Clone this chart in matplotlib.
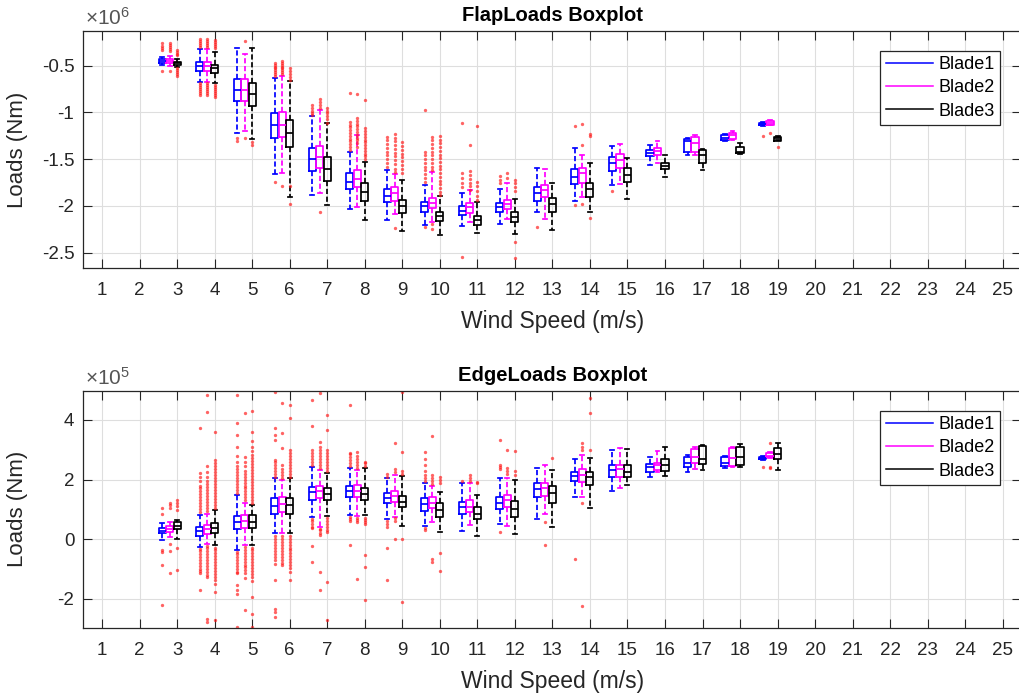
import numpy as np
import matplotlib
matplotlib.use("Agg")
import matplotlib.pyplot as plt
from matplotlib.lines import Line2D

plt.rcParams["font.family"] = ["Liberation Sans", "DejaVu Sans"]
plt.rcParams["mathtext.fontset"] = "custom"
plt.rcParams["mathtext.rm"] = "Liberation Sans"

# ---------------------------------------------------------------- data
speeds = [3, 4, 5, 6, 7, 8, 9, 10, 11, 12, 13, 14, 15, 16, 17, 18, 19]
blades = ["Blade1", "Blade2", "Blade3"]
tick_speeds = list(range(1, 26))

# Flapwise loads, units of 1e6 Nm: (whislo, q1, median, q3, whishi) per wind speed
flap_b1 = [(-0.489, -0.468, -0.447, -0.425, -0.404), (-0.671, -0.553, -0.503, -0.460, -0.325),
           (-1.216, -0.874, -0.760, -0.645, -0.308), (-1.657, -1.276, -1.134, -1.009, -0.635),
           (-1.881, -1.622, -1.500, -1.383, -1.037), (-2.034, -1.820, -1.740, -1.643, -1.419),
           (-2.148, -1.960, -1.892, -1.814, -1.614), (-2.202, -2.060, -2.000, -1.953, -1.775),
           (-2.213, -2.095, -2.049, -2.006, -1.857), (-2.190, -2.070, -2.013, -1.964, -1.820),
           (-2.060, -1.942, -1.857, -1.793, -1.596), (-1.942, -1.764, -1.686, -1.607, -1.376),
           (-1.775, -1.622, -1.543, -1.479, -1.358), (-1.561, -1.465, -1.429, -1.400, -1.347),
           (-1.454, -1.419, -1.310, -1.286, -1.276), (-1.310, -1.300, -1.270, -1.240, -1.230),
           (-1.140, -1.137, -1.123, -1.109, -1.100)]
flap_b2 = [(-0.500, -0.468, -0.447, -0.425, -0.395), (-0.671, -0.553, -0.503, -0.460, -0.325),
           (-1.200, -0.874, -0.760, -0.645, -0.380), (-1.650, -1.265, -1.134, -1.000, -0.610),
           (-1.860, -1.596, -1.472, -1.358, -0.970), (-2.010, -1.800, -1.714, -1.614, -1.240),
           (-2.090, -1.942, -1.863, -1.793, -1.660), (-2.167, -2.023, -1.964, -1.917, -1.632),
           (-2.170, -2.077, -2.013, -1.970, -1.830), (-2.140, -2.034, -1.977, -1.935, -1.760),
           (-2.140, -1.906, -1.828, -1.775, -1.610), (-1.900, -1.750, -1.650, -1.596, -1.450),
           (-1.770, -1.596, -1.507, -1.443, -1.340), (-1.540, -1.454, -1.408, -1.376, -1.310),
           (-1.450, -1.419, -1.329, -1.258, -1.240), (-1.290, -1.280, -1.240, -1.216, -1.200),
           (-1.134, -1.130, -1.110, -1.090, -1.085)]
flap_b3 = [(-0.511, -0.493, -0.475, -0.457, -0.432), (-0.688, -0.578, -0.528, -0.493, -0.350),
           (-1.287, -0.930, -0.806, -0.688, -0.308), (-1.900, -1.370, -1.215, -1.080, -0.663),
           (-1.988, -1.729, -1.607, -1.479, -1.115), (-2.149, -1.942, -1.846, -1.757, -1.526),
           (-2.263, -2.077, -2.006, -1.935, -1.721), (-2.309, -2.156, -2.106, -2.060, -1.892),
           (-2.290, -2.202, -2.149, -2.106, -1.953), (-2.298, -2.177, -2.120, -2.070, -1.927),
           (-2.255, -2.060, -1.977, -1.917, -1.750), (-2.060, -1.900, -1.820, -1.750, -1.543),
           (-1.927, -1.740, -1.668, -1.596, -1.489), (-1.693, -1.607, -1.568, -1.536, -1.454),
           (-1.620, -1.543, -1.450, -1.400, -1.390), (-1.440, -1.436, -1.419, -1.365, -1.330),
           (-1.300, -1.301, -1.276, -1.258, -1.250)]

flap_out_b1 = [[-0.26, -0.29, -0.31, -0.33, -0.56],
               [-0.22, -0.24, -0.26, -0.28, -0.30, -0.69, -0.71, -0.73, -0.75, -0.77, -0.79, -0.81],
               [-1.27, -1.31],
               [-0.47, -0.49, -0.51, -0.53, -0.55, -0.57, -0.59, -0.61, -1.74],
               [-0.92, -0.95, -0.98, -1.01, -1.03],
               [-0.79, -1.10, -1.13, -1.16, -1.19, -1.22, -1.25, -1.28, -1.31, -1.34, -1.37, -1.40],
               [-1.26, -1.30, -1.34, -1.38, -1.42, -1.46, -1.50, -1.54, -1.58],
               [-0.97, -1.42, -1.46, -1.50, -1.54, -1.58, -1.62, -1.66, -1.70, -1.74, -2.23],
               [-1.11, -1.65, -1.70, -1.75, -1.80, -2.55],
               [-1.68, -1.72, -1.76],
               [-2.23],
               [-1.15, -1.99],
               [-1.835],
               [], [], [],
               [-1.25]]
flap_out_b2 = [[-0.26, -0.28, -0.30, -0.32, -0.34, -0.56],
               [-0.22, -0.24, -0.26, -0.28, -0.30, -0.69, -0.71, -0.73, -0.75, -0.77, -0.79, -0.81],
               [-0.24, -1.27],
               [-0.45, -0.47, -0.49, -0.51, -0.53, -0.55, -0.57, -0.59, -1.785],
               [-0.86, -0.89, -0.92, -0.955, -2.06],
               [-0.80, -1.06, -1.09, -1.12, -1.15, -1.18, -1.21, -1.24, -1.27, -1.30, -1.33, -1.37],
               [-1.23, -1.27, -1.31, -1.35, -1.39, -1.43, -1.47, -1.51, -1.55, -1.60, -1.64, -2.24],
               [-1.265, -1.30, -1.34, -1.38, -1.42, -1.46, -1.50, -1.54, -1.58, -1.62, -2.19, -2.25],
               [-1.35, -1.63, -1.67, -1.71, -1.75, -1.79, -1.83],
               [-1.65, -1.70],
               [],
               [-1.12, -1.35, -1.98],
               [], [], [], [],
               [-1.216]]
flap_out_b3 = [[-0.33, -0.35, -0.37, -0.39, -0.53, -0.55, -0.57, -0.59, -0.61],
               [-0.23, -0.25, -0.27, -0.29, -0.31, -0.71, -0.73, -0.75, -0.77, -0.79, -0.81, -0.83],
               [-1.32, -1.35],
               [-0.53, -0.56, -0.59, -0.62, -0.65, -1.79, -1.98],
               [-0.95, -0.98, -1.01, -1.04, -1.07, -1.11],
               [-0.87, -1.17, -1.20, -1.23, -1.26, -1.29, -1.32, -1.35, -1.38, -1.41, -1.44, -1.47, -1.50],
               [-1.32, -1.36, -1.40, -1.44, -1.48, -1.52, -1.56, -1.60, -1.65],
               [-1.25, -1.29, -1.33, -1.37, -1.41, -1.45, -1.49, -1.53, -1.57, -1.61, -1.65, -1.69,
                -1.73, -1.77, -1.81, -1.85, -1.88],
               [-1.14, -1.74, -1.79, -1.84, -1.89, -1.935],
               [-1.72, -1.76, -1.80, -1.84, -2.39, -2.56],
               [],
               [-1.23, -1.25, -2.13],
               [], [], [], [],
               [-1.365]]

# Edgewise loads, units of 1e5 Nm: (whislo, q1, median, q3, whishi) per wind speed
edge_b1 = [(-0.03, 0.19, 0.28, 0.38, 0.53), (-0.26, 0.10, 0.26, 0.41, 0.81),
           (-0.35, 0.33, 0.58, 0.77, 1.48), (0.19, 0.86, 1.11, 1.37, 2.04),
           (0.75, 1.33, 1.59, 1.76, 2.41), (0.81, 1.40, 1.62, 1.78, 2.38),
           (0.66, 1.20, 1.37, 1.56, 2.04), (0.45, 0.95, 1.18, 1.37, 1.87),
           (0.28, 0.84, 1.09, 1.25, 1.87), (0.50, 1.00, 1.22, 1.42, 2.04),
           (0.66, 1.40, 1.67, 1.89, 2.38), (1.42, 1.96, 2.12, 2.26, 2.68),
           (1.62, 2.09, 2.32, 2.49, 2.99), (2.09, 2.26, 2.41, 2.52, 2.77),
           (2.26, 2.41, 2.55, 2.77, 2.82), (2.38, 2.45, 2.54, 2.75, 2.80),
           (2.66, 2.68, 2.72, 2.77, 2.79)]
edge_b2 = [(0.06, 0.25, 0.33, 0.44, 0.58), (-0.17, 0.17, 0.33, 0.47, 0.86),
           (-0.20, 0.39, 0.60, 0.81, 1.20), (0.19, 0.92, 1.18, 1.42, 2.00),
           (0.41, 1.37, 1.62, 1.78, 2.32), (0.79, 1.42, 1.62, 1.82, 2.32),
           (0.75, 1.25, 1.45, 1.63, 2.15), (0.58, 1.03, 1.22, 1.42, 1.78),
           (0.47, 0.92, 1.09, 1.33, 1.87), (0.45, 1.09, 1.31, 1.48, 2.04),
           (0.86, 1.45, 1.70, 1.89, 2.49), (1.42, 1.93, 2.15, 2.34, 2.82),
           (1.70, 2.09, 2.34, 2.49, 3.05), (2.26, 2.32, 2.49, 2.57, 2.97),
           (2.36, 2.54, 2.77, 3.01, 3.08), (2.41, 2.45, 2.72, 3.05, 3.08),
           (2.71, 2.75, 2.80, 2.88, 2.92)]
edge_b3 = [(0.02, 0.33, 0.45, 0.58, 0.64), (-0.20, 0.19, 0.36, 0.53, 0.97),
           (-0.20, 0.36, 0.58, 0.81, 1.14), (0.19, 0.86, 1.14, 1.37, 2.04),
           (0.77, 1.31, 1.51, 1.70, 2.23), (0.80, 1.31, 1.51, 1.70, 2.38),
           (0.44, 1.07, 1.25, 1.45, 2.12), (0.25, 0.75, 0.97, 1.22, 1.59),
           (0.10, 0.66, 0.84, 1.09, 1.48), (0.17, 0.75, 1.00, 1.29, 1.98),
           (0.41, 1.20, 1.54, 1.78, 2.32), (1.03, 1.82, 2.07, 2.26, 2.71),
           (1.82, 2.09, 2.26, 2.49, 3.01), (2.12, 2.30, 2.49, 2.68, 3.08),
           (2.32, 2.52, 2.68, 3.13, 3.16), (2.41, 2.49, 2.77, 3.10, 3.20),
           (2.32, 2.68, 2.86, 3.05, 3.24)]

edge_out_b1 = [[1.03, 0.86, -0.37, -0.43, -0.87, -2.22],
               [0.90, 1.00, 1.10, 1.20, 1.30, 1.40, 1.50, 1.60, 1.70, 1.80, 1.95, 2.10, 2.21, 3.74,
                -0.32, -0.40, -0.50, -0.60, -0.70, -0.80, -0.90, -1.00, -1.08, -1.15, -1.69],
               [1.55, 1.65, 1.75, 1.85, 1.95, 2.05, 2.15, 2.25, 2.35, 2.45, 2.60, 2.80, 3.10, 3.50, 3.89, 4.84,
                -0.42, -0.50, -0.60, -0.70, -0.80, -0.90, -1.00, -1.10, -1.15, -1.55, -1.70, -1.83, -2.95],
               [2.10, 2.20, 2.30, 2.40, 2.50, 2.60, 2.66, 3.33, 3.50, 3.73, 4.95,
                0.12, 0.00, -0.10, -0.20, -0.30, -0.40, -0.50, -0.60, -0.70, -0.82, -1.38, -2.33, -2.45, -2.61],
               [2.50, 2.60, 2.70, 2.80, 2.90, 2.99, 3.80, 4.67, 0.68, 0.60, 0.50, 0.42, 0.36, -0.22, -0.76],
               [2.45, 2.55, 2.65, 2.75, 2.85, 2.90, 4.50, 0.75, 0.68, 0.60, -0.20],
               [2.10, 2.20, 0.60, 0.50, 0.40, -0.29, -1.36],
               [1.95, 2.05, 2.15, 2.30, 2.50, 2.70, 2.93, 0.38, 0.30],
               [1.94],
               [2.34, 2.42, 2.49, 3.33, 0.25],
               [],
               [-0.68],
               [], [], [], [],
               [2.43]]
edge_out_b2 = [[1.22, 1.14, 1.06, -0.15, -0.39, -1.13],
               [0.95, 1.05, 1.15, 1.25, 1.35, 1.45, 1.55, 1.65, 1.75, 1.85, 1.95, 2.10, 2.25, 2.45, 4.26, 4.84,
                -0.22, -0.30, -0.40, -0.50, -0.60, -0.70, -0.80, -0.90, -1.00, -1.10, -1.20, -1.27, -2.67, -2.78],
               [1.30, 1.40, 1.50, 1.60, 1.70, 1.80, 1.90, 2.00, 2.10, 2.20, 2.30, 2.45, 2.60, 2.77, 4.22,
                -0.25, -0.35, -0.45, -0.55, -0.65, -0.75, -0.85, -0.95, -1.05, -1.15, -1.30, -2.39],
               [2.05, 2.15, 2.25, 2.35, 2.50, 3.05, 3.57, 4.58,
                0.12, 0.00, -0.10, -0.20, -0.30, -0.40, -0.50, -0.60, -0.70, -0.80, -0.87],
               [2.40, 2.50, 2.60, 2.70, 2.80, 2.90, 3.00, 3.10, 3.27, 4.90, 0.35, 0.30, 0.22, 0.15, -1.10, -1.69],
               [2.40, 2.50, 2.60, 2.70, 2.80, 2.92, 0.72, 0.64, 0.56, -1.32],
               [2.25, 2.35, 3.24, 0.70, 0.60, 0.02],
               [1.85, 1.95, 2.05, 2.15, 3.46, -0.65, -0.76],
               [1.95, 2.05, 2.15],
               [2.20, 2.30, 2.40, 2.99],
               [0.58, -0.20],
               [2.99, 3.10, 3.24, 1.22, -2.25],
               [], [], [], [],
               [3.22, 2.43, 2.40]]
edge_out_b3 = [[1.33, 1.22, 1.10, 0.97, -0.31, -1.04],
               [1.05, 1.15, 1.25, 1.35, 1.45, 1.55, 1.65, 1.75, 1.85, 1.95, 2.05, 2.15, 2.25, 2.35, 2.45,
                2.55, 2.66, 3.58, -0.28, -0.38, -0.48, -0.58, -0.68, -0.78, -0.88, -0.98, -1.08, -1.18,
                -1.28, -1.38, -1.50, -1.77, -2.70],
               [1.22, 1.32, 1.42, 1.52, 1.62, 1.72, 1.82, 1.92, 2.02, 2.12, 2.22, 2.32, 2.42, 2.52, 2.62,
                2.72, 2.82, 2.95, 3.10, 3.30, 3.60, 4.30, -0.28, -0.38, -0.48, -0.58, -0.68, -0.78, -0.88,
                -0.98, -1.08, -1.18, -1.28, -1.40, -1.94, -2.50, -2.95],
               [2.10, 2.20, 2.30, 2.40, 2.50, 2.60, 2.70, 2.80, 2.90, 2.99, 4.06, 4.50,
                0.12, 0.02, -0.08, -0.18, -0.28, -0.38, -0.48, -0.58, -0.68, -0.78, -0.88, -0.98, -1.10, -1.38],
               [2.30, 2.40, 2.50, 2.60, 2.70, 2.80, 2.90, 2.99, 3.66, 4.17,
                0.70, 0.60, 0.50, 0.40, 0.30, 0.25, -1.43, -2.70],
               [2.45, 2.55, 2.60, 0.72, 0.64, 0.56, 0.50, -0.54, -0.95, -2.03],
               [2.20, 2.30, 2.93, 4.95, 0.02, -2.10],
               [1.89, 2.00, 2.10, -0.46, -1.07],
               [1.90, 1.93],
               [2.15, 2.30, 2.95],
               [2.71],
               [2.99, 4.22, 4.73],
               [], [], [], [],
               []]

# ---------------------------------------------------------------- style
blade_colors = ["#0000ff", "#ff00ff", "#000000"]
blade_offsets = [-0.4, -0.2, 0.0]
box_width = 0.19
axis_gray = "#262626"


def make_stats(summary, outliers):
    stats = []
    for (lo, q1, med, q3, hi), fl in zip(summary, outliers):
        stats.append(dict(whislo=lo, q1=q1, med=med, q3=q3, whishi=hi,
                          fliers=np.asarray(fl, dtype=float)))
    return stats


def draw_panel(ax, summaries, outliers, title, ylim, yticks, yticklabels, exponent):
    for summary, outl, col, off in zip(summaries, outliers, blade_colors, blade_offsets):
        pos = [s + off for s in speeds]
        ax.bxp(make_stats(summary, outl), positions=pos, widths=box_width,
               capwidths=box_width * 0.55, manage_ticks=False,
               boxprops=dict(color=col, lw=1.25),
               medianprops=dict(color=col, lw=1.25),
               whiskerprops=dict(color=col, lw=1.25, linestyle=(0, (3.0, 1.5))),
               capprops=dict(color=col, lw=1.25),
               flierprops=dict(marker="o", markersize=2.4, markeredgewidth=0,
                               markerfacecolor="#ff1a1a", alpha=0.68, linestyle="none"))
    ax.set_xlim(0.5, 25.5)
    ax.set_ylim(*ylim)
    ax.set_xticks(tick_speeds)
    ax.set_xticklabels([str(s) for s in tick_speeds])
    ax.set_yticks(yticks)
    ax.set_yticklabels(yticklabels)
    ax.grid(True, color="#dedede", lw=0.8)
    ax.set_axisbelow(True)
    ax.tick_params(axis="both", direction="in", length=6.5, width=0.8, top=True, right=True,
                   labelsize=13.5, colors=axis_gray)
    ax.tick_params(axis="x", pad=10)
    ax.tick_params(axis="y", pad=6.5)
    for sp in ax.spines.values():
        sp.set_color(axis_gray)
        sp.set_linewidth(0.9)
    ax.set_title(title, fontsize=14.5, fontweight="bold", color="black", pad=7)
    ax.set_xlabel("Wind Speed (m/s)", fontsize=16.5, color=axis_gray, labelpad=8)
    ax.text(0.002, 1.024, r"$\times\mathregular{10^{%d}}$" % exponent, transform=ax.transAxes,
            ha="left", va="baseline", fontsize=15, color="#555555")
    handles = [Line2D([], [], color=c, lw=1.1) for c in blade_colors]
    leg = ax.legend(handles, blades, loc="upper right", bbox_to_anchor=(0.977, 0.916),
                    borderaxespad=0, fontsize=13, handlelength=2.6, handletextpad=0.3,
                    labelspacing=0.35, borderpad=0.3, fancybox=False, framealpha=1)
    leg.get_frame().set_edgecolor(axis_gray)
    leg.get_frame().set_linewidth(0.9)


fig = plt.figure(figsize=(10.2, 6.95), dpi=100)
W, H = 1020.0, 695.0
ax1 = fig.add_axes([83.3 / W, 1 - 268.3 / H, 938.2 / W, 237.6 / H])
ax2 = fig.add_axes([83.3 / W, 1 - 627.7 / H, 938.2 / W, 237.0 / H])

draw_panel(ax1, [flap_b1, flap_b2, flap_b3], [flap_out_b1, flap_out_b2, flap_out_b3],
           "FlapLoads Boxplot", (-2.667, -0.126),
           [-2.5, -2.0, -1.5, -1.0, -0.5], ["-2.5", "-2", "-1.5", "-1", "-0.5"], 6)
draw_panel(ax2, [edge_b1, edge_b2, edge_b3], [edge_out_b1, edge_out_b2, edge_out_b3],
           "EdgeLoads Boxplot", (-2.97, 4.98),
           [-2, 0, 2, 4], ["-2", "0", "2", "4"], 5)

for ax in (ax1, ax2):
    bb = ax.get_position()
    fig.text(18 / W, bb.y0 + bb.height / 2, "Loads (Nm)", rotation=90, ha="center", va="center",
             fontsize=16, color=axis_gray)

fig.savefig("out.png", dpi=100)
